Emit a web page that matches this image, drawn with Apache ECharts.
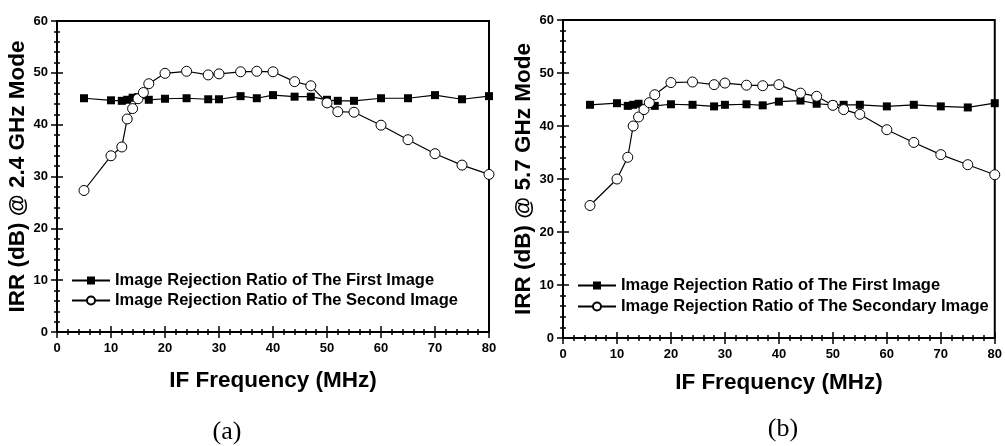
<!DOCTYPE html>
<html>
<head>
<meta charset="UTF-8">
<title>IRR vs IF Frequency</title>
<script src="https://cdn.jsdelivr.net/npm/echarts@6/dist/echarts.min.js"></script>
<style>
    body { margin: 0; background: #fff; }
    #chart { width: 1005px; height: 446px; }
</style>
</head>
<body>
<div id="chart"></div>
<script>
    // (a) 2.4 GHz mode
    var freqFirstA  = [5, 10, 12, 13, 14, 15, 17, 20, 24, 28, 30, 34, 37, 40, 44, 47, 50, 52, 55, 60, 65, 70, 75, 80];
    var irrFirstA   = [45.1, 44.7, 44.6, 44.8, 45.2, 45.3, 44.8, 45.0, 45.1, 44.9, 44.9, 45.5, 45.1, 45.7, 45.4, 45.4, 44.8, 44.6, 44.6, 45.1, 45.1, 45.7, 44.9, 45.5];
    var freqSecondA = [5, 10, 12, 13, 14, 15, 16, 17, 20, 24, 28, 30, 34, 37, 40, 44, 47, 50, 52, 55, 60, 65, 70, 75, 80];
    var irrSecondA  = [27.3, 34.0, 35.7, 41.1, 43.1, 45.0, 46.2, 47.9, 49.9, 50.3, 49.6, 49.8, 50.2, 50.3, 50.2, 48.3, 47.5, 44.2, 42.5, 42.4, 39.9, 37.1, 34.4, 32.2, 30.4];

    // (b) 5.7 GHz mode
    var freqFirstB  = [5, 10, 12, 13, 14, 17, 20, 24, 28, 30, 34, 37, 40, 44, 47, 50, 52, 55, 60, 65, 70, 75, 80];
    var irrFirstB   = [44.0, 44.3, 43.8, 44.0, 44.2, 43.8, 44.1, 44.0, 43.7, 44.0, 44.1, 43.9, 44.6, 44.8, 44.2, 44.0, 44.0, 44.0, 43.7, 44.0, 43.7, 43.5, 44.3];
    var freqSecondB = [5, 10, 12, 13, 14, 15, 16, 17, 20, 24, 28, 30, 34, 37, 40, 44, 47, 50, 52, 55, 60, 65, 70, 75, 80];
    var irrSecondB  = [25.0, 30.0, 34.1, 40.0, 41.7, 43.1, 44.4, 45.9, 48.2, 48.3, 47.8, 48.1, 47.7, 47.6, 47.8, 46.2, 45.6, 43.9, 43.1, 42.2, 39.3, 36.9, 34.6, 32.7, 30.8];

    var nameFirst = 'Image Rejection Ratio of The First Image';
    var nameSecondA = 'Image Rejection Ratio of The Second Image';
    var nameSecondB = 'Image Rejection Ratio of The Secondary Image';

    function pairs(xs, ys) {
        return xs.map(function (x, i) { return [x, ys[i]]; });
    }

    var FONT = 'Liberation Sans, Arial, sans-serif';

    function xAx(grid, pos, name, gap) {
        return {
            type: 'value', gridIndex: grid, position: pos,
            min: 0, max: 80, interval: 10,
            name: name, nameLocation: 'middle', nameGap: gap,
            nameTextStyle: { fontFamily: FONT, fontWeight: 'bold', fontSize: 22.5, color: '#000' },
            axisLine: { show: false },
            axisTick: { inside: true, length: 6, lineStyle: { color: '#000', width: 1.5 } },
            minorTick: { show: true, splitNumber: 5, length: 3, lineStyle: { color: '#000', width: 1.5 } },
            axisLabel: { show: pos === 'bottom', margin: 10, fontFamily: FONT, fontWeight: 'bold', fontSize: 13, color: '#000' },
            splitLine: { show: false }
        };
    }
    function yAx(grid, pos, name) {
        return {
            type: 'value', gridIndex: grid, position: pos,
            min: 0, max: 60, interval: 10,
            name: name, nameLocation: 'middle', nameGap: 19,
            nameTextStyle: { fontFamily: FONT, fontWeight: 'bold', fontSize: 22.5, color: '#000' },
            axisLine: { show: false },
            axisTick: { inside: true, length: 6, lineStyle: { color: '#000', width: 1.5 } },
            minorTick: { show: true, splitNumber: 5, length: 3, lineStyle: { color: '#000', width: 1.5 } },
            axisLabel: { show: pos === 'left', margin: 9, fontFamily: FONT, fontWeight: 'bold', fontSize: 13, color: '#000' },
            splitLine: { show: false }
        };
    }

    function lineSeries(name, xi, yi, data, hollow) {
        return {
            name: name, type: 'line', xAxisIndex: xi, yAxisIndex: yi,
            data: data,
            symbol: hollow ? 'circle' : 'rect',
            symbolSize: hollow ? 10 : 8,
            showAllSymbol: true,
            lineStyle: { color: '#000', width: 1.2 },
            itemStyle: hollow ? { color: '#fff', borderColor: '#000', borderWidth: 1 } : { color: '#000' },
            z: hollow ? 3 : 2,
            animation: false
        };
    }

    var legendText = { fontFamily: FONT, fontWeight: 'bold', fontSize: 16.5, color: '#000' };
    var panelFont = '26px "Liberation Serif", "Times New Roman", serif';

    var option = {
        backgroundColor: '#fff',
        animation: false,
        grid: [
            { left: 57, top: 21, width: 432, height: 311, show: true, borderColor: '#000', borderWidth: 2, backgroundColor: 'transparent' },
            { left: 563, top: 20, width: 434, height: 318, show: true, borderColor: '#000', borderWidth: 2, backgroundColor: 'transparent' }
        ],
        xAxis: [
            xAx(0, 'bottom', 'IF Frequency (MHz)', 37), xAx(0, 'top', '', 0),
            xAx(1, 'bottom', 'IF Frequency (MHz)', 33), xAx(1, 'top', '', 0)
        ],
        yAxis: [
            yAx(0, 'left', 'IRR (dB) @ 2.4 GHz Mode'), yAx(0, 'right', ''),
            yAx(1, 'left', 'IRR (dB) @ 5.7 GHz Mode'), yAx(1, 'right', '')
        ],
        legend: [
            { orient: 'vertical', left: 71, top: 272, padding: 0, itemWidth: 38, itemHeight: 10, itemGap: 3,
              textStyle: legendText, data: [nameFirst, nameSecondA], selectedMode: false },
            { orient: 'vertical', left: 577, top: 277, padding: 0, itemWidth: 38, itemHeight: 10, itemGap: 4,
              textStyle: legendText, data: [nameFirst, nameSecondB], selectedMode: false }
        ],
        graphic: [
            { type: 'text', x: 227, y: 432, style: { text: '(a)', font: panelFont, fill: '#000', align: 'center', verticalAlign: 'middle' } },
            { type: 'text', x: 783, y: 429, style: { text: '(b)', font: panelFont, fill: '#000', align: 'center', verticalAlign: 'middle' } }
        ],
        series: [
            lineSeries(nameFirst, 0, 0, pairs(freqFirstA, irrFirstA), false),
            lineSeries(nameSecondA, 0, 0, pairs(freqSecondA, irrSecondA), true),
            lineSeries(nameFirst, 2, 2, pairs(freqFirstB, irrFirstB), false),
            lineSeries(nameSecondB, 2, 2, pairs(freqSecondB, irrSecondB), true)
        ]
    };

    var myChart = echarts.init(document.getElementById('chart'));
    myChart.setOption(option);
</script>
</body>
</html>
